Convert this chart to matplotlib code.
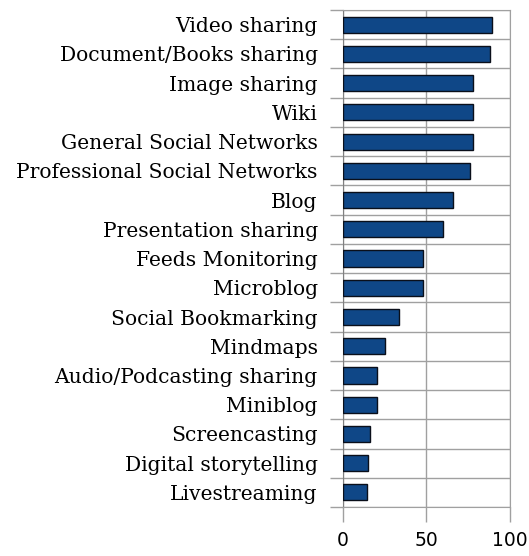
import numpy as np
import matplotlib.pyplot as plt
from matplotlib.ticker import FixedLocator

# Data (top to bottom as shown)
categories = ['Video sharing', 'Document/Books sharing', 'Image sharing', 'Wiki',
              'General Social Networks', 'Professional Social Networks', 'Blog',
              'Presentation sharing', 'Feeds Monitoring', 'Microblog',
              'Social Bookmarking', 'Mindmaps', 'Audio/Podcasting sharing',
              'Miniblog', 'Screencasting', 'Digital storytelling', 'Livestreaming']
values = [89, 88, 78, 78, 78, 76, 66, 60, 48, 48, 33.5, 25, 20.5, 20.5, 16.5, 15, 14.7]
x_ticks = [0, 50, 100]

fig = plt.figure(figsize=(5.29, 5.56), dpi=100)
ax = fig.add_axes([0.648, 0.088, 0.316, 0.894])

n = len(categories)
y = np.arange(n)[::-1]
ax.barh(y, values, height=0.55, color='#0f4787', edgecolor='#0a0f1a', linewidth=1, zorder=3)

ax.set_xlim(0, 100)
ax.set_ylim(-0.5, n - 0.5)
ax.set_xticks(x_ticks)
ax.set_xticklabels([str(t) for t in x_ticks], fontsize=13.5, family='DejaVu Sans')
ax.set_yticks(y)
ax.set_yticklabels(categories, fontsize=14.6, family='DejaVu Serif')
ax.tick_params(axis='y', length=0, pad=18)
ax.yaxis.set_minor_locator(FixedLocator(np.arange(n + 1) - 0.5))
ax.tick_params(axis='y', which='minor', length=9.5, color='#a0a0a0', width=1)
ax.tick_params(axis='x', length=11, color='#a0a0a0', width=1, pad=6)

ax.grid(axis='x', color='#a0a0a0', linewidth=1, zorder=0)
ax.grid(axis='y', which='minor', color='#a0a0a0', linewidth=1, zorder=0)
for s in ax.spines.values():
    s.set_color('#a0a0a0')
ax.spines['left'].set_color('#808080')

fig.savefig('out.png', dpi=100)
